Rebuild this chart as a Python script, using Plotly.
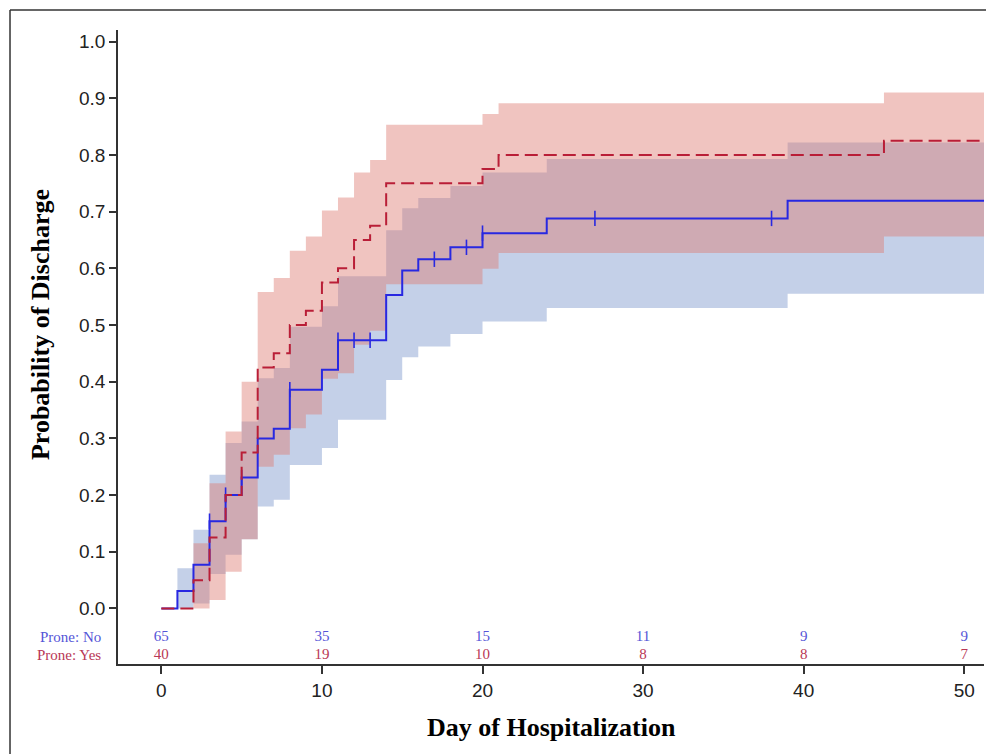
import plotly.graph_objects as go

# ---------------- data ----------------
days_axis = [0, 10, 20, 30, 40, 50]
risk_no = [65, 35, 15, 11, 9, 9]
risk_yes = [40, 19, 10, 8, 8, 7]

# Prone: No (blue, solid)
no_t = [0, 1, 2, 3, 4, 5, 6, 7, 8, 10, 11, 14, 15, 16, 18, 20, 24, 39]
no_s = [0, 0.031, 0.077, 0.154, 0.200, 0.231, 0.300, 0.317, 0.386, 0.421,
        0.473, 0.553, 0.596, 0.616, 0.637, 0.662, 0.688, 0.719]
no_cens_t = [3, 4, 5, 8, 11, 12, 13, 17, 19, 20, 27, 38]

no_band_t = [1, 2, 3, 4, 5, 6, 7, 8, 10, 11, 14, 15, 16, 18, 20, 24, 39]
no_lo = [0, 0.009, 0.061, 0.095, 0.122, 0.180, 0.192, 0.253, 0.283, 0.333,
         0.403, 0.443, 0.462, 0.484, 0.506, 0.530, 0.555]
no_hi = [0.071, 0.139, 0.236, 0.292, 0.330, 0.406, 0.424, 0.497, 0.533, 0.586,
         0.667, 0.706, 0.724, 0.745, 0.769, 0.793, 0.822]

# Prone: Yes (red, dashed)
yes_t = [0, 2, 3, 4, 5, 6, 7, 8, 9, 10, 11, 12, 13, 14, 20, 21, 45]
yes_s = [0, 0.05, 0.125, 0.2, 0.275, 0.425, 0.45, 0.5, 0.525, 0.575, 0.6,
         0.65, 0.675, 0.75, 0.775, 0.8, 0.825]

yes_band_t = [2, 3, 4, 5, 6, 7, 8, 9, 10, 11, 12, 13, 14, 20, 21, 45]
yes_lo = [0, 0.015, 0.065, 0.122, 0.250, 0.271, 0.318, 0.342, 0.405, 0.415,
          0.465, 0.490, 0.572, 0.599, 0.627, 0.656]
yes_hi = [0.115, 0.221, 0.312, 0.400, 0.558, 0.583, 0.631, 0.656, 0.702, 0.725,
          0.769, 0.791, 0.853, 0.872, 0.891, 0.910]

t_end = 51.3

# ---------------- styles ----------------
BLUE = "rgb(40,40,225)"
RED = "rgb(185,30,55)"
BLUE_FILL = "rgb(196,208,232)"
RED_FILL = "rgba(222,124,115,0.45)"
TXT_BLUE = "rgb(85,85,215)"
TXT_RED = "rgb(185,55,85)"
AXIS = "#333333"
SERIF = "Liberation Serif, Times New Roman, serif"
SANS = "Liberation Sans, Arial, sans-serif"


def ext(t, v):
    return list(t) + [t_end], list(v) + [v[-1]]


def step_at(t, s, x):
    val = s[0]
    for ti, si in zip(t, s):
        if ti <= x:
            val = si
    return val


fig = go.Figure()

# blue band
bx, blo = ext(no_band_t, no_lo)
_, bhi = ext(no_band_t, no_hi)
fig.add_trace(go.Scatter(x=bx, y=blo, mode="lines", line=dict(width=0, shape="hv"),
                         hoverinfo="skip"))
fig.add_trace(go.Scatter(x=bx, y=bhi, mode="lines", line=dict(width=0, shape="hv"),
                         fill="tonexty", fillcolor=BLUE_FILL, hoverinfo="skip"))

# red band
rx, rlo = ext(yes_band_t, yes_lo)
_, rhi = ext(yes_band_t, yes_hi)
fig.add_trace(go.Scatter(x=rx, y=rlo, mode="lines", line=dict(width=0, shape="hv"),
                         hoverinfo="skip"))
fig.add_trace(go.Scatter(x=rx, y=rhi, mode="lines", line=dict(width=0, shape="hv"),
                         fill="tonexty", fillcolor=RED_FILL, hoverinfo="skip"))

# blue KM line
nx, ns = ext(no_t, no_s)
fig.add_trace(go.Scatter(x=nx, y=ns, mode="lines",
                         line=dict(color=BLUE, width=2, shape="hv"), name="Prone: No"))
# censor ticks
fig.add_trace(go.Scatter(x=no_cens_t, y=[step_at(no_t, no_s, c) for c in no_cens_t],
                         mode="markers",
                         marker=dict(symbol="line-ns", size=11,
                                     line=dict(color=BLUE, width=1.6)),
                         hoverinfo="skip"))

# red KM line
yx, ys = ext(yes_t, yes_s)
fig.add_trace(go.Scatter(x=yx, y=ys, mode="lines",
                         line=dict(color=RED, width=2, shape="hv", dash="13px,6px"),
                         name="Prone: Yes"))

# at-risk numbers
Y_NO = -0.051
Y_YES = -0.082
fig.add_trace(go.Scatter(x=days_axis, y=[Y_NO] * len(days_axis), mode="text",
                         text=[str(v) for v in risk_no],
                         textfont=dict(family=SERIF, size=15, color=TXT_BLUE),
                         cliponaxis=False, hoverinfo="skip"))
fig.add_trace(go.Scatter(x=days_axis, y=[Y_YES] * len(days_axis), mode="text",
                         text=[str(v) for v in risk_yes],
                         textfont=dict(family=SERIF, size=15, color=TXT_RED),
                         cliponaxis=False, hoverinfo="skip"))

fig.update_layout(
    width=986, height=746,
    margin=dict(l=110, r=10, t=22, b=90),
    paper_bgcolor="white", plot_bgcolor="white",
    showlegend=False,
    xaxis=dict(range=[-2.70, 51.23], tickvals=days_axis, ticks="outside", ticklen=8,
               tickwidth=1.5, tickcolor=AXIS, showline=True, linecolor=AXIS, linewidth=1.8,
               showgrid=False, zeroline=False,
               tickfont=dict(family=SANS, size=19, color="#222222")),
    yaxis=dict(range=[-0.0979, 1.0203], tickvals=[i / 10 for i in range(11)],
               tickformat=".1f", ticks="outside", ticklen=7, tickwidth=1.5,
               tickcolor=AXIS, showline=True, linecolor=AXIS, linewidth=1.8,
               showgrid=False, zeroline=False,
               tickfont=dict(family=SANS, size=19, color="#222222")),
    annotations=[
        dict(text="Prone: No", xref="paper", yref="y", x=-0.0173, y=Y_NO,
             xanchor="right", yanchor="middle", showarrow=False,
             font=dict(family=SERIF, size=15, color=TXT_BLUE)),
        dict(text="Prone: Yes", xref="paper", yref="y", x=-0.0173, y=Y_YES,
             xanchor="right", yanchor="middle", showarrow=False,
             font=dict(family=SERIF, size=15, color=TXT_RED)),
        dict(text="<b>Probability of Discharge</b>", xref="paper", yref="y",
             x=-0.09, y=0.5, textangle=-90, xanchor="center", yanchor="middle",
             showarrow=False, font=dict(family=SERIF, size=26, color="black")),
        dict(text="<b>Day of Hospitalization</b>", xref="paper", yref="paper",
             x=0.5, y=-0.0994, xanchor="center", yanchor="middle",
             showarrow=False, font=dict(family=SERIF, size=26, color="black")),
    ],
    shapes=[
        dict(type="line", xref="paper", yref="paper", x0=-0.1247, x1=-0.1247,
             y0=1.0315, y1=-0.15, line=dict(color=AXIS, width=1.5)),
        dict(type="line", xref="paper", yref="paper", x0=-0.1247, x1=1.02,
             y0=1.0315, y1=1.0315, line=dict(color=AXIS, width=1.5)),
    ],
)

fig.write_html("out.html")
